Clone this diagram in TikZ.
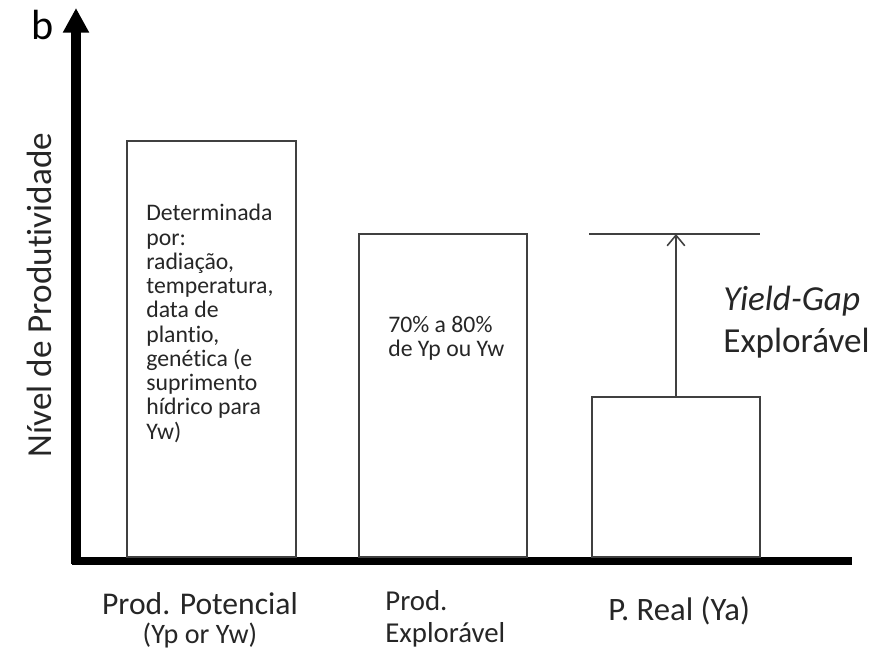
\documentclass[tikz,border=0pt]{standalone}
\usepackage{fontspec}
\setmainfont{Carlito}[Ligatures=NoCommon]
\usetikzlibrary{arrows.meta}
\begin{document}
\begin{tikzpicture}[
  bar/.style={draw=black!75,line width=1.1pt,fill=white,anchor=south west,inner sep=0pt,minimum width=3.36cm},
  boxtext/.style={anchor=north west,inner sep=0pt,align=left,text=black!85,font=\fontsize{13.5}{13.8}\selectfont},
  caption/.style={inner sep=0pt,text=black!85}
]
\useasboundingbox (0,0) rectangle (17.6,13.08);
% eixos
\coordinate (orig) at (1.52,1.86);
\coordinate (xend) at (17.04,1.86);
\coordinate (ytop) at (1.52,12.92);
\draw[line width=4.5pt] (1.44,1.86) -- (xend);
\draw[line width=5.7pt,-{Triangle[width=14pt,length=14pt]}] (1.52,1.8) -- (ytop);
\node[font=\fontsize{24}{28}\selectfont] (b) at (0.85,12.58) {b};
\node[caption,rotate=90,font=\fontsize{20}{24}\selectfont] (ylab) at (0.78,7.18) {Nível de Produtividade};
% barras
\node[bar,minimum width=3.38cm,minimum height=8.32cm] (pot) at (2.52,1.92) {};
\node[bar,minimum height=6.46cm] (expl) at (7.16,1.92) {};
\node[bar,minimum height=3.2cm] (real) at (11.82,1.92) {};
\node[boxtext] (potText) at (2.92,9.0) {Determinada\\por:\\radiação,\\temperatura,\\data de\\plantio,\\genética (e\\suprimento\\hídrico para\\Yw)};
\node[boxtext] (explText) at (7.76,6.76) {70\% a 80\%\\de Yp ou Yw};
% yield gap
\coordinate (gapL) at (11.78,8.4);
\coordinate (gapR) at (15.2,8.4);
\draw[line width=1.1pt,black!75] (gapL) -- (gapR);
\draw[line width=0.9pt,black!75,-{Straight Barb[length=6pt,width=10pt]}] (real.north) -- (real.north |- gapL);
\node[caption,anchor=north west,align=left,font=\fontsize{20}{23.9}\selectfont] (gap) at (14.46,7.36) {\textit{Yield-Gap}\\Explorável};
% rotulos
\node[caption,anchor=north,align=center,font=\fontsize{18}{16.5}\selectfont] (potLab) at (4.0,1.24) {Prod. Potencial\\{\fontsize{16}{16.5}\selectfont (Yp or Yw)}};
\node[caption,anchor=north west,align=left,font=\fontsize{16.4}{18.2}\selectfont] (explLab) at (7.7,1.28) {Prod.\\Explorável};
\node[caption,anchor=north west,font=\fontsize{18.6}{21}\selectfont] (realLab) at (12.16,1.16) {P. Real (Ya)};
\end{tikzpicture}
\end{document}
